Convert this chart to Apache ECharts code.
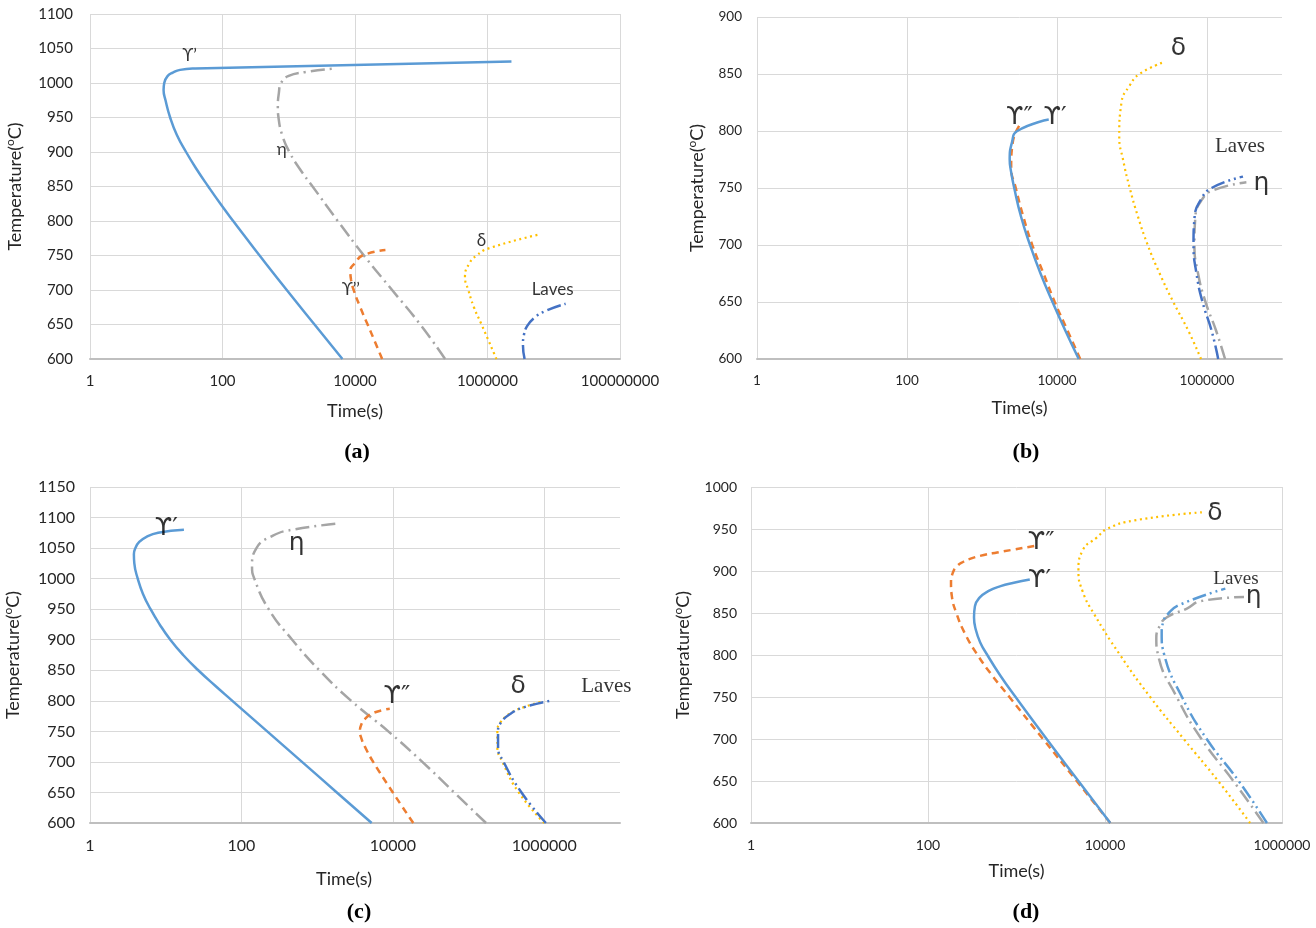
<!DOCTYPE html>
<html>
<head>
<meta charset="utf-8">
<title>TTT diagrams</title>
<script src="https://cdn.jsdelivr.net/npm/echarts@6/dist/echarts.min.js"></script>
<style>
  html, body { margin: 0; padding: 0; background: #fff; }
  #main { width: 1316px; height: 928px; }
</style>
</head>
<body>
<div id="main"></div>
<script>
// data: [time (s), temperature (C)]
// (a)
var gpA = [[6460,600],[2450,650],[933,700],[363,750],[229,775],[145,800],[93,825],[61,850],[40.7,875],[28.2,900],[20.4,925],[16.2,950],[13.8,975],[12.9,990],[13.2,1000],[14.8,1010],[17.8,1015],[22.9,1019],[38.5,1021],[2300000,1031]];
var gppA = [[25700,600],[20000,625],[15500,650],[12000,675],[9550,700],[8710,715],[8510,728],[10200,740],[12900,750],[28800,758]];
var etaA = [[229000,600],[96600,650],[36300,700],[13650,750],[5500,800],[2290,850],[1479,875],[1023,900],[794,925],[700,950],[684,965],[708,985],[767,1000],[977,1010],[1820,1016],[5130,1021]];
var deltaA = [[1365000,600],[813000,650],[624000,675],[513000,700],[457000,719],[543000,740],[684000,750],[1020000,760],[5750000,780]];
var lavesA = [[3630000,600],[3430000,620],[3550000,635],[3980000,648],[5130000,660],[7240000,669],[15100000,680]];
var labelsA = [['ϒ’',32,1040],['η',780,903],['ϒ’’',8700,700],['δ',810000,772],['Laves',9600000,700]];
// (b)
var gpB = [[19500,600],[12900,625],[8710,650],[6030,675],[4370,700],[3310,725],[2690,750],[2430,765],[2340,775],[2510,790],[2950,800],[7760,810]];
var gppB = [[20400,600],[13800,625],[9330,650],[6610,675],[4680,700],[3550,725],[2820,750],[2450,768],[2570,790],[3310,807]];
var deltaB = [[832000,600],[562000,625],[355000,650],[234000,675],[162000,700],[120000,725],[93300,750],[75900,775],[67600,795],[72400,825],[93300,840],[126000,850],[257000,860]];
var lavesB = [[1410000,600],[1150000,625],[871000,650],[724000,675],[661000,700],[684000,725],[832000,740],[1150000,750],[3020000,760]];
var etaB = [[1740000,600],[1320000,625],[955000,650],[760000,675],[680000,700],[700000,725],[860000,740],[1200000,748],[3350000,755]];
var labelsB = [['ϒ″',3150,812],['ϒ′',9400,812],['δ',415000,872],['Laves',2750000,786],['η',5300000,754]];
// (c)
var gpC = [[5250,600],[1820,650],[631,700],[219,750],[75.9,800],[44.7,825],[26.9,850],[17.0,875],[11.5,900],[8.32,925],[6.31,950],[5.01,975],[4.27,1000],[3.85,1025],[3.8,1040],[3.98,1050],[4.47,1060],[5.5,1068],[7.94,1075],[17.4,1080]];
var etaC = [[170000,600],[64600,650],[24500,700],[8700,750],[2820,800],[1070,850],[468,900],[229,950],[148,1000],[138,1020],[158,1050],[257,1070],[468,1080],[1860,1090]];
var gppC = [[18600,600],[10000,650],[5500,700],[4270,725],[3800,740],[3670,750],[3800,760],[4270,770],[5500,780],[9100,787]];
var deltaC = [[1000000,600],[460000,650],[280000,700],[240000,725],[240000,750],[265000,765],[360000,780],[550000,790],[890000,798]];
var lavesC = [[1050000,600],[500000,650],[290000,700],[245000,725],[245000,750],[270000,765],[370000,780],[560000,790],[1200000,800]];
var labelsC = [['ϒ′',10.2,1082],['η',535,1058],['ϒ″',11300,807],['δ',450000,823],['Laves',6600000,824]];
// (d)
var gpD = [[11480,600],[5010,650],[2190,700],[977,750],[661,775],[468,800],[389,815],[347,830],[331,845],[339,858],[380,868],[479,876],[661,882],[933,886],[1413,890]];
var gppD = [[11480,600],[4790,650],[1995,700],[832,750],[537,775],[363,800],[263,825],[209,850],[186,870],[182,885],[191,898],[214,906],[251,911],[309,915],[427,919],[603,922],[1622,930]];
var deltaD = [[436000,600],[190000,650],[77600,700],[32400,750],[14800,800],[7410,850],[5620,875],[5010,900],[5620,925],[8130,940],[10500,950],[20900,960],[129000,970]];
var lavesD = [[676000,600],[324000,650],[141000,700],[74100,750],[46800,800],[43700,825],[45700,840],[52500,850],[70800,860],[229000,879]];
var etaD = [[617000,600],[282000,650],[123000,700],[64600,750],[39800,800],[38000,820],[41700,835],[50100,845],[83200,855],[120000,864],[372000,869]];
var labelsD = [['δ',174000,968],['ϒ″',1900,934],['ϒ′',1820,889],['Laves',302000,891],['η',478000,870]];

var tMax = [1e8, 1e7, 1e7, 1e6];
var yMin = [600, 600, 600, 600];
var yMax = [1100, 900, 1150, 1000];
var panelNames = ['(a)', '(b)', '(c)', '(d)'];

// 线型
var st = {
    gp:    { color: '#5B9BD5', type: 'solid', width: 2.5 },
    gpp:   { color: '#ED7D31', type: [7, 5], width: 2.5 },
    eta:   { color: '#A5A5A5', type: [14, 5, 2, 5], width: 2.5 },
    delta: { color: '#FFC000', type: [2, 3.5], width: 2.2 },
    laves: { color: '#4472C4', type: [14, 4, 2, 4, 2, 4], width: 2.5 }
};

var grids = [
    { left: 90, top: 14, width: 530, height: 345 },
    { left: 757, top: 17, width: 525, height: 342 },
    { left: 90, top: 487, width: 530, height: 336 },
    { left: 751, top: 487, width: 531, height: 336 }
];
var fs = [15, 13.5, 16, 14];        // tick label size
var yGap = [64, 49, 66, 57];        // y name gap
var xGap = [43, 40, 47, 39];        // x name gap
var xPad = [[0, 0, 0, 0], [0, 0, 0, 0], [0, 22, 0, 0], [0, 0, 0, 0]];
var yMargin = [17, 15, 15, 14];
var panelPos = [[357, 452], [1026, 452], [359, 912], [1026, 912]];

var font = 'Lato, "Open Sans", sans-serif';

var xAxes = [], yAxes = [], series = [];
for (var i = 0; i < 4; i++) {
    xAxes.push({
        type: 'log', logBase: 100, gridIndex: i, min: 1, max: tMax[i],
        axisLine: { show: true, onZero: false, lineStyle: { color: '#bfbfbf', width: 2 } },
        axisTick: { show: false },
        splitLine: { show: true, showMaxLine: i === 0 || i === 3, lineStyle: { color: '#d9d9d9', width: 1 } },
        axisLabel: {
            fontSize: fs[i], fontFamily: font, color: '#262626', margin: 15,
            showMaxLabel: i === 0 || i === 3,
            formatter: function (v) { return String(Math.round(v)); }
        },
        name: 'Time(s)', nameLocation: 'middle', nameGap: xGap[i],
        nameTextStyle: { fontSize: 18, fontFamily: font, color: '#262626', padding: xPad[i] }
    });
    yAxes.push({
        type: 'value', gridIndex: i, min: yMin[i], max: yMax[i], interval: 50,
        axisLine: { show: false },
        axisTick: { show: false },
        splitLine: { lineStyle: { color: '#d9d9d9', width: 1 } },
        axisLabel: {
            fontSize: fs[i], fontFamily: font, color: '#262626', margin: yMargin[i],
            formatter: function (v) { return String(v); }
        },
        name: '{a|Temperature(}{s|o}{a|C)}', nameLocation: 'middle', nameGap: yGap[i], nameRotate: 90,
        nameTextStyle: {
            rich: {
                a: { fontSize: 18, fontFamily: font, color: '#262626', lineHeight: 22 },
                s: { fontSize: 12, fontFamily: font, color: '#262626', lineHeight: 22, verticalAlign: 'top', padding: [0, 0, 7, 0] }
            }
        }
    });
}

function line(data, idx, s, color) {
    return {
        type: 'line', xAxisIndex: idx, yAxisIndex: idx, data: data,
        showSymbol: false, symbol: 'none', smooth: 0.5, silent: true, animation: false,
        lineStyle: { color: color || s.color, type: s.type, width: s.width, cap: 'butt' },
        z: 3
    };
}

function labels(list, idx) {
    var items = list.map(function (l) {
        var isLaves = l[0] === 'Laves';
        var size, fam;
        if (idx === 0) { size = 17; fam = 'Lato, "DejaVu Sans", sans-serif'; }
        else if (isLaves) { size = idx === 3 ? 19 : 21; fam = '"Liberation Serif", serif'; }
        else { size = 25; fam = '"DejaVu Sans", "Noto Sans", sans-serif'; }
        return {
            value: [l[1], l[2]],
            label: { formatter: l[0], fontSize: size, fontFamily: fam }
        };
    });
    return {
        type: 'scatter', xAxisIndex: idx, yAxisIndex: idx, data: items,
        symbolSize: 0, silent: true, animation: false, z: 5,
        label: { show: true, position: 'inside', color: '#000' }
    };
}

series.push(line(gpA, 0, st.gp), line(etaA, 0, st.eta), line(gppA, 0, st.gpp), line(deltaA, 0, st.delta), line(lavesA, 0, st.laves), labels(labelsA, 0));
series.push(line(deltaB, 1, st.delta), line(etaB, 1, st.eta), line(lavesB, 1, st.laves), line(gppB, 1, st.gpp), line(gpB, 1, st.gp), labels(labelsB, 1));
series.push(line(gpC, 2, st.gp), line(etaC, 2, st.eta), line(gppC, 2, st.gpp), line(deltaC, 2, st.delta), line(lavesC, 2, st.laves), labels(labelsC, 2));
series.push(line(gppD, 3, st.gpp), line(gpD, 3, st.gp), line(deltaD, 3, st.delta), line(etaD, 3, st.eta), line(lavesD, 3, st.laves, '#5B9BD5'), labels(labelsD, 3));

var graphics = panelNames.map(function (n, k) {
    return {
        type: 'text', x: panelPos[k][0], y: panelPos[k][1],
        style: { text: n, fill: '#000', font: 'bold 22px "Liberation Serif", serif', align: 'center', verticalAlign: 'middle' }
    };
});

var myChart = echarts.init(document.getElementById('main'), null, { renderer: 'canvas' });
myChart.setOption({
    animation: false,
    backgroundColor: '#fff',
    grid: grids,
    xAxis: xAxes,
    yAxis: yAxes,
    series: series,
    graphic: graphics
});
</script>
</body>
</html>
